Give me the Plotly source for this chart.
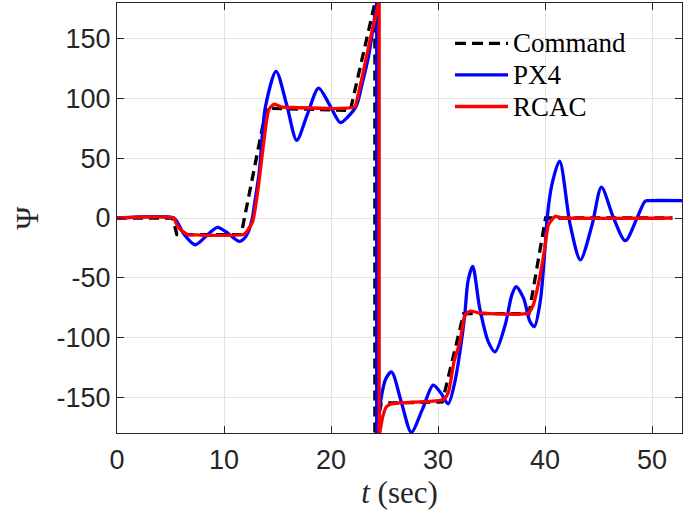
import plotly.graph_objects as go

# Yaw command (deg)
cmd_t = [0, 5.2, 5.6, 11.6, 13.95, 21.8, 24.1, 24.1, 24.7, 30.4, 32.4, 38.5, 40.05, 51.9]
cmd_psi = [0, 0, -14, -14, 92, 90, 180, -180, -155, -154, -80, -80, 0, 0]

# PX4 yaw response (deg); None separates the +180/-180 wrap
px4_t = [0, 5.3, 5.6, 6.3, 7.31, 8.35, 9.4, 10.4, 11.43, 11.9, 12.25, 12.6, 12.84, 13.3,
         13.87, 14.87, 15.85, 16.8, 17.8, 18.84, 19.85, 20.87, 21.6, 22.37, 22.9, 23.5,
         24.0, 24.27,
         None, 24.27, 24.27, None,
         24.3, 24.7, 25.1, 25.65, 26.6, 27.5, 28.55, 29.55, 30.3, 30.95, 31.58, 32.05,
         32.5, 32.8, 33.24, 33.9, 34.7, 35.33, 36.27, 36.9, 37.3, 38.0, 38.6, 39.0, 39.55,
         40.0, 40.2, 40.64, 41.36, 42.35, 43.3, 44.4, 45.27, 46.4, 47.5, 48.6, 49.35,
         49.7, 53.0]
px4_psi = [0, 0, -3, -14, -22.4, -15, -7.8, -13, -19.6, -17, -12, -2, 11, 39,
           93, 122.8, 95, 65.1, 87, 108.8, 95, 79.9, 85, 94, 112, 135,
           163, 180,
           None, 180, -180, None,
           -180, -150, -135, -128.9, -155, -179.4, -160, -140, -147, -155.6, -137, -112,
           -81, -53, -40.6, -75.7, -103.7, -112, -89.7, -64.4, -57.4, -67.3, -86.9, -91, -70,
           -25, 0, 28, 47.7, -5.6, -35, -5.6, 25.8, 0, -19, 0, 14,
           14.5, 14.5]

# RCAC yaw response (deg)
rcac_t = [0, 5.3, 5.5, 5.75, 6.1, 6.6, 7.5, 11.9, 12.3, 12.68, 13.15, 13.75, 14.2, 14.7,
          15.3, 16.5, 22.2, 22.5, 22.84, 23.6, 24.45,
          None, 24.5, 24.5, None,
          24.55, 24.87, 25.18, 25.65, 27.7, 30.5, 30.97, 31.5, 32.05, 32.5, 33.0, 33.9,
          38.45, 38.9, 39.55, 40.0, 40.33, 40.96, 41.6, 51.9]
rcac_psi = [0, 0, -4, -8, -11, -13.8, -14.2, -13.5, -9, -3, 22, 66, 91, 95.4,
            93, 92.5, 93.1, 102, 115, 147, 180,
            None, 180, -180, None,
            -180, -165, -158, -155.6, -154.2, -152, -146, -120, -103.7, -82, -77.9, -79.5,
            -79.5, -72.8, -47.6, -23.8, -5.6, 1.4, 0.2, 0]

legend_names = ["Command", "PX4", "RCAC"]

x_ticks = [0, 10, 20, 30, 40, 50]
y_ticks = [-150, -100, -50, 0, 50, 100, 150]

AXIS_COLOR = "#262626"
GRID_COLOR = "#e3e3e3"
SERIF = "Liberation Serif"
SANS = "Liberation Sans"
LW = 3.3

fig = go.Figure()
fig.add_trace(go.Scatter(x=cmd_t, y=cmd_psi, mode="lines", name=legend_names[0],
                         line=dict(color="black", width=LW, dash="10px,6px"),
                         showlegend=False))
fig.add_trace(go.Scatter(x=px4_t, y=px4_psi, mode="lines", name=legend_names[1],
                         line=dict(color="#0000ff", width=LW, shape="spline", smoothing=0.8),
                         connectgaps=False, showlegend=False))
fig.add_trace(go.Scatter(x=rcac_t, y=rcac_psi, mode="lines", name=legend_names[2],
                         line=dict(color="#ff0000", width=LW, shape="spline", smoothing=0.6),
                         connectgaps=False, showlegend=False))

# Legend drawn in paper coordinates (no box)
PLOT_L, PLOT_R, PLOT_T, PLOT_B = 117, 682, 3, 433
def px_to_paper_x(px):
    return (px - PLOT_L) / (PLOT_R - PLOT_L)
def px_to_paper_y(py):
    return (PLOT_B - py) / (PLOT_B - PLOT_T)

legend_styles = [dict(color="black", width=LW, dash="11px,6px"),
                 dict(color="#0000ff", width=LW),
                 dict(color="#ff0000", width=LW)]
legend_rows = [43.3, 74.8, 106.5]
for name, style, row in zip(legend_names, legend_styles, legend_rows):
    yy = px_to_paper_y(row)
    fig.add_shape(type="line", xref="paper", yref="paper",
                  x0=px_to_paper_x(455), x1=px_to_paper_x(508), y0=yy, y1=yy,
                  line=style)
    fig.add_annotation(xref="paper", yref="paper", x=px_to_paper_x(511), y=yy,
                       xanchor="left", yanchor="middle", text=name, showarrow=False,
                       font=dict(family=SERIF, size=27, color="black"))

axis_common = dict(showline=True, linecolor=AXIS_COLOR, linewidth=1, mirror="ticks",
                   ticks="inside", ticklen=7, tickcolor=AXIS_COLOR, tickwidth=1,
                   showgrid=True, gridcolor=GRID_COLOR, gridwidth=1, zeroline=False,
                   tickfont=dict(family=SANS, size=27, color=AXIS_COLOR))

fig.update_xaxes(range=[0, 52.8], tickvals=x_ticks, ticktext=[str(v) for v in x_ticks],
                 ticklabelstandoff=3,
                 title=dict(text="<i>t</i> (sec)", font=dict(family=SERIF, size=31, color=AXIS_COLOR),
                            standoff=6),
                 **axis_common)
fig.update_yaxes(range=[-180, 180], tickvals=y_ticks, ticktext=[str(v) for v in y_ticks],
                 title=dict(text="Ψ", font=dict(family=SERIF, size=31, color=AXIS_COLOR),
                            standoff=8),
                 **axis_common)

fig.update_layout(width=697, height=518, autosize=False,
                  margin=dict(l=PLOT_L, r=697 - PLOT_R, t=PLOT_T, b=518 - PLOT_B),
                  plot_bgcolor="white", paper_bgcolor="white", showlegend=False)

fig.write_html("out.html")
